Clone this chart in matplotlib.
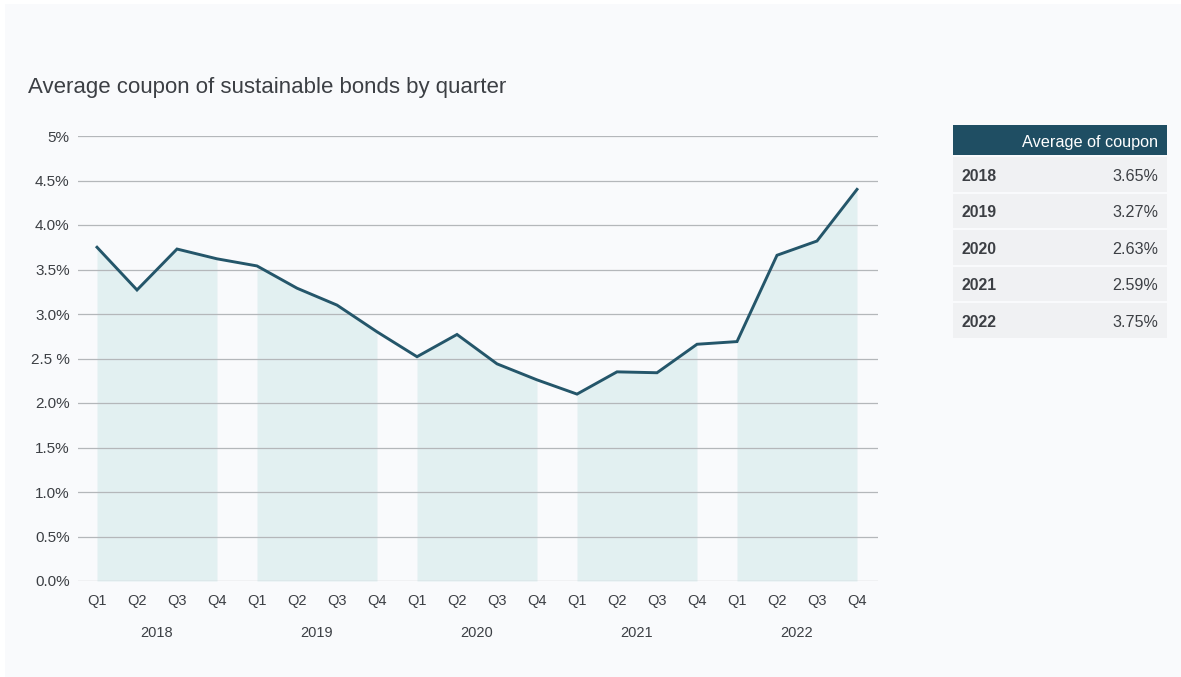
import matplotlib
matplotlib.use("Agg")
import matplotlib.pyplot as plt
from matplotlib.patches import Rectangle

plt.rcParams['font.family'] = ['Liberation Sans', 'DejaVu Sans']

# Quarterly average coupon (%) by year
years = ["2018", "2019", "2020", "2021", "2022"]
quarters = ["Q1", "Q2", "Q3", "Q4"]
coupon = [
    3.75, 3.27, 3.73, 3.62,   # 2018
    3.54, 3.29, 3.10, 2.80,   # 2019
    2.52, 2.77, 2.44, 2.26,   # 2020
    2.10, 2.35, 2.34, 2.66,   # 2021
    2.69, 3.66, 3.82, 4.40,   # 2022
]
ytick_vals = [0, 0.5, 1.0, 1.5, 2.0, 2.5, 3.0, 3.5, 4.0, 4.5, 5.0]
ytick_labels = ["0.0%", "0.5%", "1.0%", "1.5%", "2.0%", "2.5 %", "3.0%",
                "3.5%", "4.0%", "4.5%", "5%"]

# Yearly averages shown in the side table
table_years = ["2018", "2019", "2020", "2021", "2022"]
table_values = ["3.65%", "3.27%", "2.63%", "2.59%", "3.75%"]

BG = "#f9fafc"
LINE = "#24566a"
FILL = "#e2f0f1"
GRID = "#b4b7ba"
TEXT = "#3c3f44"
HEADER = "#1f4e63"
ROW = "#f0f1f3"

W, H = 1181, 677
fig = plt.figure(figsize=(W / 100, H / 100), dpi=100)
fig.patch.set_facecolor("white")

# Light panel behind everything
fig.patches.append(Rectangle((5 / W, 0), 1 - 5 / W, 1 - 4 / H,
                             transform=fig.transFigure, facecolor=BG,
                             edgecolor="none", zorder=-10))

fig.text(28 / W, 1 - 88 / H, "Average coupon of sustainable bonds by quarter",
         fontsize=16, color=TEXT, va="center", ha="left")

ax = fig.add_axes([78 / W, (H - 581) / H, 800 / W, 445 / H])
ax.set_facecolor("none")
x = list(range(len(coupon)))

# Shaded area under the line for each year
for i, yr in enumerate(years):
    xs = x[i * 4:(i + 1) * 4]
    ys = coupon[i * 4:(i + 1) * 4]
    ax.fill_between(xs, 0, ys, color=FILL, linewidth=0, zorder=1)

ax.plot(x, coupon, color=LINE, linewidth=2.1, solid_joinstyle="miter", zorder=3)

ax.set_ylim(0, 5)
ax.set_xlim(-0.475, len(coupon) - 1 + 0.525)
ax.set_yticks(ytick_vals)
ax.set_yticklabels(ytick_labels)
ax.yaxis.grid(True, color=GRID, linewidth=0.9, zorder=2)
ax.set_axisbelow(False)
for s in ax.spines.values():
    s.set_visible(False)
ax.tick_params(axis="y", length=0, pad=6, labelsize=11, labelcolor=TEXT)

ax.set_xticks(x)
ax.set_xticklabels(quarters * len(years))
ax.tick_params(axis="x", length=0, pad=9, labelsize=10.5, labelcolor=TEXT)

for i, yr in enumerate(years):
    ax.text(i * 4 + 1.5, -0.58, yr, ha="center", va="center",
            fontsize=10.5, color=TEXT, clip_on=False)

# Side table of yearly averages
tl, tr = 953, 1167


def fy(py):
    return 1 - py / H


fig.patches.append(Rectangle((tl / W, fy(155)), (tr - tl) / W, 30 / H,
                             transform=fig.transFigure, facecolor=HEADER,
                             edgecolor="none"))
fig.text(1158 / W, fy(142), "Average of coupon", color="white", fontsize=11.7,
         ha="right", va="center")

row_top = 157
row_h = 36.5
for i, (yl, val) in enumerate(zip(table_years, table_values)):
    top = row_top + i * row_h
    fig.patches.append(Rectangle((tl / W, fy(top + row_h - 2)), (tr - tl) / W,
                                 (row_h - 2) / H, transform=fig.transFigure,
                                 facecolor=ROW, edgecolor="none"))
    cy = top + (row_h - 2) / 2 + 2
    fig.text(962 / W, fy(cy), yl, color=TEXT, fontsize=11.3, ha="left",
             va="center", fontweight="bold")
    fig.text(1158 / W, fy(cy), val, color=TEXT, fontsize=11.6, ha="right",
             va="center")

fig.savefig("out.png", dpi=100, facecolor=fig.get_facecolor())
